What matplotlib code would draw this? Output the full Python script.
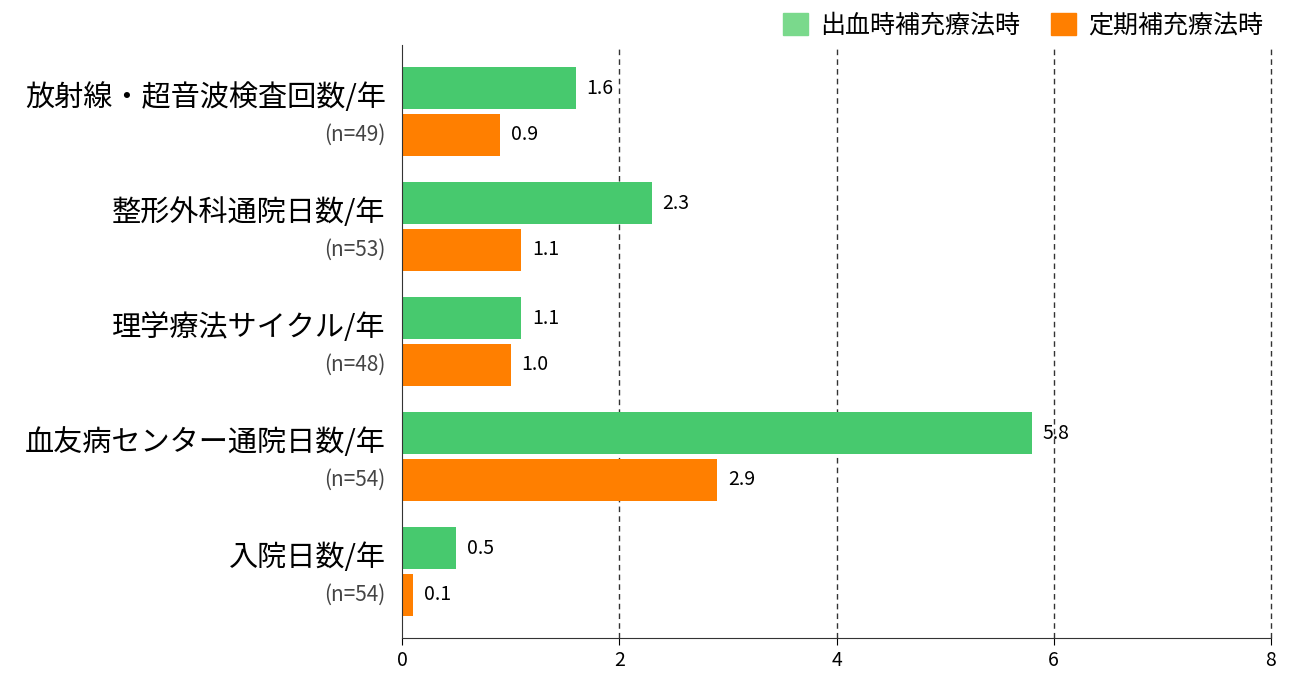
import matplotlib
matplotlib.use("Agg")
import matplotlib.pyplot as plt
from matplotlib.patches import Patch

plt.rcParams["font.family"] = ["Noto Sans CJK JP", "DejaVu Sans"]

categories = ["放射線・超音波検査回数/年", "整形外科通院日数/年", "理学療法サイクル/年",
              "血友病センター通院日数/年", "入院日数/年"]
counts = ["(n=49)", "(n=53)", "(n=48)", "(n=54)", "(n=54)"]
on_demand = [1.6, 2.3, 1.1, 5.8, 0.5]
prophylaxis = [0.9, 1.1, 1.0, 2.9, 0.1]
series_names = ["出血時補充療法時", "定期補充療法時"]

green = "#47C96E"
orange = "#FF7F00"

fig = plt.figure(figsize=(12.92, 6.8), dpi=100)
ax = fig.add_axes([402/1292, 1-638/680, (1271-402)/1292, (638-45)/680])

h = 0.365
off = 0.204
for i, (g, o) in enumerate(zip(on_demand, prophylaxis)):
    ax.barh(i - off, g, height=h, color=green)
    ax.barh(i + off, o, height=h, color=orange)
    ax.text(g + 0.1, i - off, f"{g:.1f}", va="center", ha="left", fontsize=14)
    ax.text(o + 0.1, i + off, f"{o:.1f}", va="center", ha="left", fontsize=14)
    ax.text(-0.15, i - 0.12, categories[i], ha="right", va="center", fontsize=21)
    ax.text(-0.15, i + 0.2, counts[i], ha="right", va="center", fontsize=15,
            color="#444444")

ax.set_xlim(0, 8)
ax.set_ylim(4.578, -0.578)
ax.set_xticks([0, 2, 4, 6, 8])
ax.tick_params(axis="x", labelsize=14, length=5)
ax.set_yticks([])
for x in [2, 4, 6, 8]:
    ax.axvline(x, color="#333333", linestyle=(0, (4, 3)), linewidth=1, zorder=0,
               clip_on=False)
for s in ["top", "right"]:
    ax.spines[s].set_visible(False)
ax.spines["left"].set_color("#333333")
ax.spines["bottom"].set_color("#333333")

handles = [Patch(color="#7AD98C"), Patch(color=orange)]
fig.legend(handles, series_names, loc="upper right", bbox_to_anchor=(0.995, 1.015),
           ncol=2, frameon=False, fontsize=18, handlelength=1.0, handleheight=1.0,
           columnspacing=1.2, handletextpad=0.5)

fig.savefig("out.png", dpi=100)
